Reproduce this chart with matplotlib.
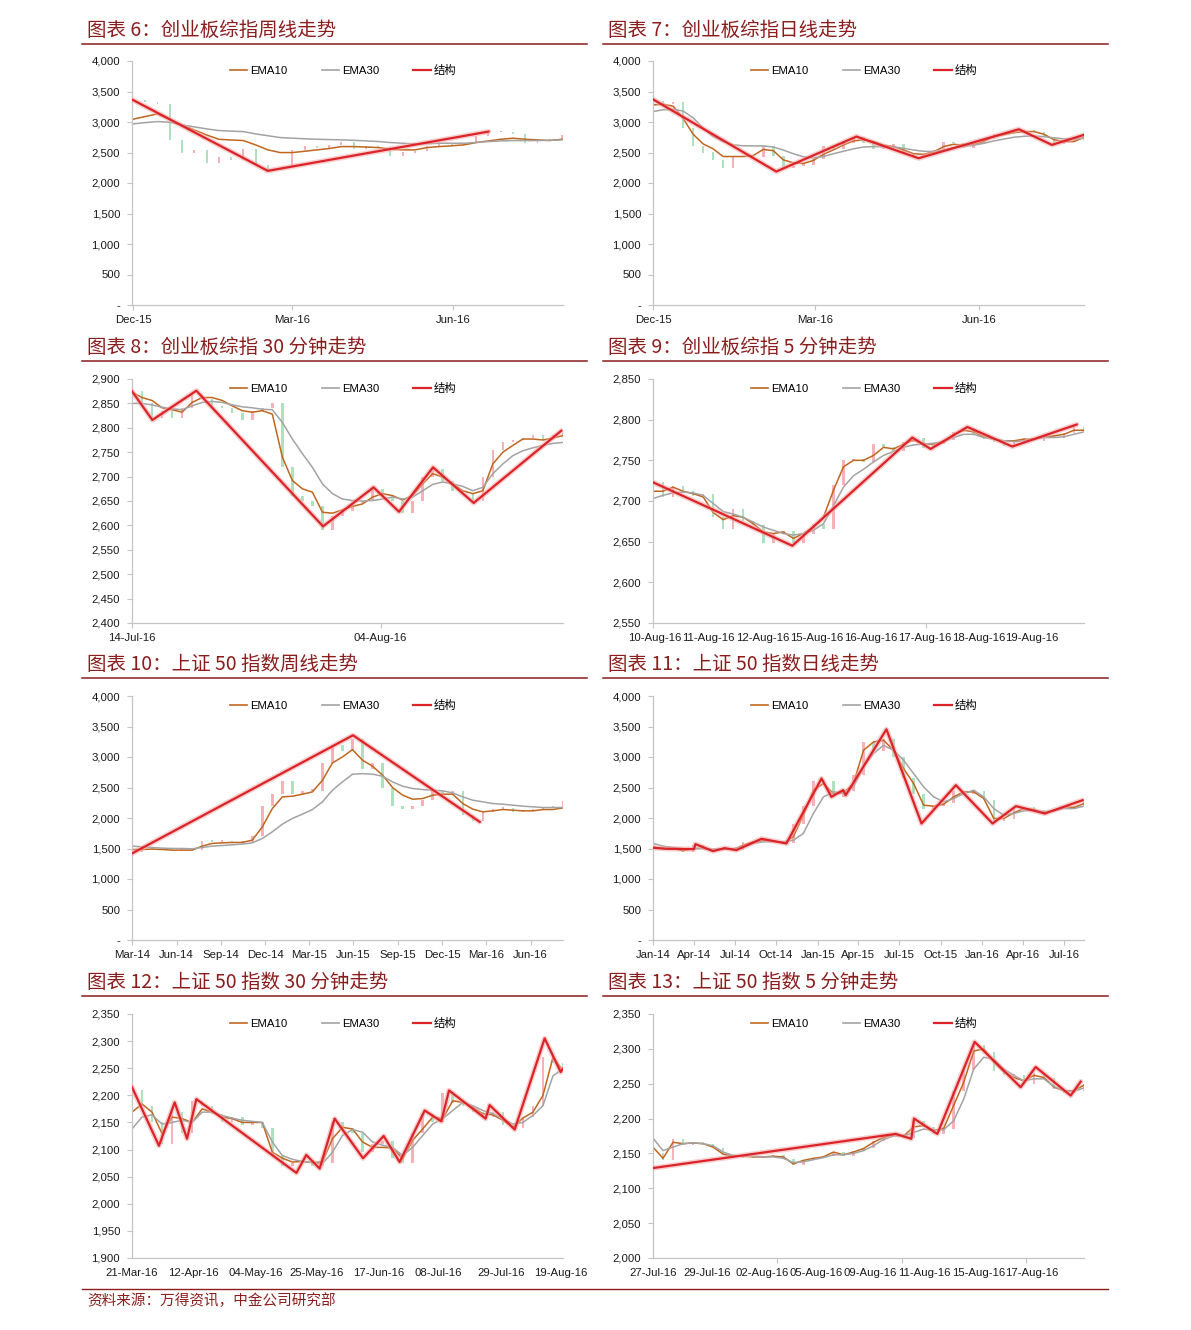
import matplotlib
matplotlib.use('Agg')
import matplotlib.pyplot as plt
from matplotlib.lines import Line2D
from matplotlib.ticker import FuncFormatter, MultipleLocator

plt.rcParams['font.family'] = ['Liberation Sans', 'Noto Sans CJK SC', 'DejaVu Sans']

# ---------------- data ----------------
# 图表6 创业板综指周线
c6_close = [3360, 3330, 3300, 2700, 2490, 2540, 2320, 2430, 2380, 2560, 2300, 2215,
            2250, 2540, 2600, 2570, 2630, 2680, 2560, 2600, 2590, 2450, 2500, 2520,
            2600, 2640, 2620, 2660, 2770, 2830, 2840, 2800, 2660, 2700, 2710, 2780]
c6_ema10 = [3045, 3090, 3132, 3040, 2952, 2870, 2788, 2717, 2705, 2696, 2625, 2543,
            2499, 2499, 2520, 2543, 2565, 2597, 2597, 2590, 2581, 2554, 2543, 2543,
            2581, 2597, 2610, 2625, 2663, 2690, 2717, 2734, 2717, 2707, 2696, 2717]
c6_ema30 = [2969, 2990, 3007, 2996, 2952, 2920, 2887, 2860, 2850, 2843, 2805, 2775,
            2745, 2735, 2725, 2717, 2712, 2707, 2700, 2690, 2680, 2663, 2652, 2641,
            2645, 2652, 2652, 2652, 2665, 2679, 2690, 2696, 2696, 2696, 2700, 2707]
c6_struct_x = [0, 11, 29]
c6_struct_y = [3361, 2199, 2843]
c6_ticks = [0, 12.97, 26.1]
c6_labels = ['Dec-15', 'Mar-16', 'Jun-16']

# 图表7 创业板综指日线
c7_close = [3350, 3300, 3320, 2900, 2600, 2500, 2380, 2250, 2420, 2440, 2430,
            2600, 2450, 2250, 2280, 2300, 2400, 2600, 2560, 2650, 2760, 2650,
            2560, 2600, 2640, 2480, 2420, 2480, 2540, 2680, 2650, 2580, 2660,
            2720, 2800, 2820, 2850, 2870, 2840, 2750, 2640, 2680, 2700, 2790]
c7_ema10 = [3280, 3290, 3260, 3060, 2800, 2641, 2560, 2434, 2434, 2434, 2450,
            2550, 2530, 2380, 2330, 2320, 2370, 2470, 2543, 2625, 2690, 2707,
            2680, 2620, 2597, 2540, 2480, 2470, 2510, 2597, 2636, 2615, 2630,
            2680, 2761, 2790, 2825, 2843, 2843, 2800, 2710, 2679, 2679, 2750]
c7_ema30 = [3171, 3200, 3209, 3180, 3070, 2900, 2760, 2680, 2625, 2610, 2608,
            2608, 2590, 2540, 2480, 2430, 2410, 2434, 2480, 2520, 2560, 2590,
            2597, 2597, 2590, 2570, 2540, 2520, 2515, 2540, 2580, 2597, 2620,
            2650, 2690, 2720, 2750, 2765, 2772, 2760, 2740, 2725, 2720, 2734]
c7_struct_x = [0, 12.3, 20.3, 26.5, 36.5, 39.8, 43]
c7_struct_y = [3372, 2188, 2761, 2406, 2881, 2625, 2789]
c7_ticks = [0, 16.2, 32.5]
c7_labels = ['Dec-15', 'Mar-16', 'Jun-16']

# 图表8 创业板综指30分钟
c8_close = [2875, 2850, 2820, 2835, 2820, 2840, 2870, 2860, 2845, 2840, 2830,
            2815, 2835, 2840, 2850, 2720, 2660, 2650, 2640, 2590, 2620, 2630,
            2645, 2650, 2675, 2660, 2650, 2625, 2650, 2700, 2715, 2690, 2670,
            2665, 2650, 2700, 2755, 2770, 2775, 2780, 2785, 2775, 2785, 2790]
c8_ema10 = [2873, 2862, 2856, 2841, 2837, 2832, 2852, 2862, 2862, 2856, 2845,
            2835, 2832, 2835, 2828, 2740, 2692, 2675, 2668, 2627, 2625, 2632,
            2639, 2644, 2658, 2665, 2661, 2652, 2661, 2685, 2706, 2699, 2685,
            2671, 2665, 2671, 2726, 2750, 2764, 2777, 2777, 2775, 2779, 2784]
c8_ema30 = [2850, 2850, 2847, 2842, 2839, 2837, 2845, 2852, 2854, 2852, 2847,
            2843, 2841, 2838, 2837, 2811, 2777, 2747, 2719, 2685, 2665, 2654,
            2651, 2650, 2651, 2654, 2658, 2654, 2658, 2671, 2684, 2689, 2685,
            2680, 2671, 2678, 2706, 2726, 2743, 2753, 2759, 2764, 2768, 2770]
c8_struct_x = [0, 2.03, 6.42, 19.06, 24.1, 26.64, 30.03, 34.09, 42.83]
c8_struct_y = [2875, 2816, 2876, 2598, 2678, 2628, 2719, 2646, 2794]
c8_ticks = [0, 24.8]
c8_labels = ['14-Jul-16', '04-Aug-16']

# 图表9 创业板综指5分钟
c9_close = [2723, 2705, 2718, 2712, 2706, 2708, 2680, 2665, 2690, 2675, 2670,
            2648, 2660, 2663, 2648, 2660, 2672, 2665, 2720, 2750, 2752, 2748,
            2770, 2766, 2762, 2772, 2778, 2765, 2770, 2775, 2785, 2790, 2782,
            2776, 2772, 2768, 2775, 2777, 2774, 2780, 2778, 2784, 2792, 2786]
c9_ema10 = [2712, 2712, 2717, 2712, 2709, 2705, 2686, 2677, 2682, 2680, 2672,
            2662, 2660, 2662, 2654, 2660, 2668, 2680, 2713, 2742, 2750, 2750,
            2756, 2766, 2764, 2770, 2775, 2770, 2770, 2772, 2782, 2787, 2785,
            2779, 2776, 2774, 2774, 2776, 2776, 2779, 2780, 2782, 2787, 2787]
c9_ema30 = [2703, 2707, 2710, 2711, 2710, 2707, 2697, 2687, 2684, 2680, 2674,
            2668, 2664, 2660, 2658, 2660, 2664, 2672, 2694, 2717, 2731, 2739,
            2748, 2756, 2761, 2766, 2769, 2770, 2771, 2773, 2778, 2782, 2782,
            2778, 2776, 2774, 2773, 2774, 2776, 2778, 2778, 2779, 2782, 2785]
c9_struct_x = [0, 13.9, 25.87, 27.7, 31.36, 35.85, 42.27]
c9_struct_y = [2723, 2645, 2778, 2764, 2791, 2767, 2794]
c9_ticks = [0.13, 5.52, 10.91, 16.3, 21.68, 27.07, 32.46, 37.84]
c9_labels = ['10-Aug-16', '11-Aug-16', '12-Aug-16', '15-Aug-16',
             '16-Aug-16', '17-Aug-16', '18-Aug-16', '19-Aug-16']
c9_marks = [0, 27.2]

# 图表10 上证50指数周线
c10_close = [1440, 1500, 1490, 1480, 1470, 1480, 1470, 1620, 1610, 1620, 1600,
             1610, 1700, 2200, 2400, 2600, 2400, 2450, 2450, 2900, 3200, 3100,
             3300, 2800, 2900, 2500, 2200, 2150, 2200, 2300, 2450, 2400, 2450,
             2050, 1950, 2100, 2150, 2170, 2100, 2120, 2150, 2180, 2170, 2280]
c10_ema10 = [1484, 1484, 1490, 1484, 1473, 1473, 1473, 1539, 1583, 1593, 1599,
             1599, 1637, 1855, 2155, 2346, 2357, 2390, 2428, 2619, 2903, 3001,
             3121, 2947, 2849, 2701, 2499, 2374, 2308, 2319, 2374, 2390, 2390,
             2237, 2145, 2101, 2117, 2139, 2128, 2117, 2117, 2139, 2139, 2166]
c10_ema30 = [1539, 1528, 1517, 1506, 1501, 1501, 1495, 1517, 1539, 1550, 1561,
             1572, 1593, 1664, 1773, 1899, 1992, 2063, 2139, 2265, 2456, 2592,
             2718, 2728, 2718, 2685, 2592, 2521, 2483, 2466, 2456, 2445, 2412,
             2346, 2292, 2265, 2237, 2226, 2210, 2194, 2183, 2172, 2172, 2172]
c10_struct_x = [0, 22.05, 34.69]
c10_struct_y = [1419, 3356, 1937]
c10_ticks = [0, 4.46, 8.88, 13.27, 17.66, 22.05, 26.54, 30.93, 35.32, 39.78]
c10_labels = ['Mar-14', 'Jun-14', 'Sep-14', 'Dec-14', 'Mar-15', 'Jun-15',
              'Sep-15', 'Dec-15', 'Mar-16', 'Jun-16']

# 图表11 上证50指数日线
c11_close = [1520, 1500, 1500, 1440, 1560, 1490, 1460, 1500, 1480, 1600, 1620,
             1640, 1610, 1590, 1900, 2200, 2600, 2600, 2350, 2450, 2700, 3250,
             3100, 3300, 3000, 2650, 2400, 2150, 2200, 2250, 2450, 2400, 2450,
             2300, 1950, 1980, 2150, 2180, 2120, 2100, 2150, 2200, 2180, 2280]
c11_ema10 = [1528, 1501, 1501, 1462, 1501, 1501, 1473, 1495, 1484, 1555, 1610,
             1626, 1621, 1593, 1692, 2046, 2456, 2565, 2401, 2412, 2565, 3110,
             3247, 3274, 3110, 2810, 2565, 2210, 2194, 2226, 2346, 2428, 2428,
             2319, 1992, 1992, 2085, 2155, 2139, 2085, 2128, 2183, 2172, 2237]
c11_ema30 = [1583, 1539, 1517, 1495, 1495, 1501, 1490, 1495, 1495, 1528, 1583,
             1610, 1610, 1604, 1637, 1746, 2074, 2346, 2428, 2412, 2510, 2838,
             3056, 3192, 3110, 2947, 2728, 2510, 2346, 2265, 2319, 2401, 2456,
             2346, 2155, 2046, 2074, 2117, 2128, 2101, 2117, 2155, 2155, 2194]
c11_struct_x = [0, 1.33, 4.09, 4.23, 5.99, 7.15, 8.32, 10.82, 13.31, 16.81, 17.8,
                18.97, 19.23, 23.29, 26.79, 30.22, 33.88, 36.21, 39.1, 42.86]
c11_struct_y = [1512, 1495, 1490, 1572, 1457, 1506, 1473, 1659, 1583, 2647, 2347,
                2456, 2374, 3454, 1910, 2538, 1910, 2194, 2074, 2292]
c11_ticks = [0, 4.09, 8.19, 12.25, 16.47, 20.47, 24.56, 28.72, 32.85, 36.94, 41.03]
c11_labels = ['Jan-14', 'Apr-14', 'Jul-14', 'Oct-14', 'Jan-15', 'Apr-15',
              'Jul-15', 'Oct-15', 'Jan-16', 'Apr-16', 'Jul-16']

# 图表12 上证50指数30分钟
c12_close = [2210, 2180, 2150, 2110, 2170, 2130, 2190, 2180, 2165, 2150, 2160,
             2145, 2150, 2140, 2090, 2070, 2075, 2080, 2070, 2075, 2150, 2140,
             2130, 2095, 2110, 2115, 2085, 2075, 2130, 2165, 2150, 2205, 2185,
             2180, 2170, 2160, 2170, 2145, 2140, 2160, 2180, 2270, 2260, 2245]
c12_ema10 = [2169, 2184, 2169, 2129, 2160, 2157, 2150, 2175, 2169, 2160, 2157,
             2150, 2150, 2150, 2095, 2084, 2077, 2078, 2076, 2077, 2120, 2141,
             2138, 2114, 2104, 2104, 2103, 2083, 2117, 2138, 2160, 2157, 2190,
             2187, 2178, 2166, 2164, 2154, 2141, 2158, 2169, 2200, 2270, 2246]
c12_ema30 = [2138, 2160, 2164, 2147, 2150, 2154, 2150, 2169, 2169, 2163, 2158,
             2154, 2152, 2150, 2114, 2089, 2082, 2078, 2076, 2074, 2095, 2126,
             2137, 2132, 2114, 2108, 2104, 2089, 2104, 2126, 2147, 2157, 2172,
             2187, 2181, 2172, 2166, 2157, 2147, 2150, 2163, 2181, 2236, 2249]
c12_struct_x = [0, 2.69, 4.26, 5.49, 6.42, 16.4, 17.39, 18.72, 20.22, 23.05, 25.11,
                26.7, 29.2, 30.86, 31.63, 35.28, 35.68, 38.18, 41.17, 42.77, 43]
c12_struct_y = [2215, 2107, 2187, 2120, 2193, 2057, 2090, 2065, 2157, 2084, 2125,
                2077, 2172, 2152, 2209, 2157, 2182, 2137, 2305, 2243, 2249]
c12_ticks = [0, 6.15, 12.3, 18.39, 24.61, 30.6, 36.85, 42.77]
c12_labels = ['21-Mar-16', '12-Apr-16', '04-May-16', '25-May-16',
              '17-Jun-16', '08-Jul-16', '29-Jul-16', '19-Aug-16']
c12_marks = [0, 12.3, 24.61, 36.85]

# 图表13 上证50指数5分钟
c13_close = [2150, 2140, 2170, 2162, 2166, 2163, 2158, 2148, 2143, 2147, 2143,
             2146, 2148, 2142, 2133, 2140, 2143, 2147, 2152, 2146, 2154, 2158,
             2168, 2176, 2178, 2172, 2196, 2188, 2178, 2185, 2240, 2270, 2305,
             2295, 2268, 2262, 2262, 2250, 2265, 2258, 2242, 2236, 2240, 2250]
c13_ema10 = [2159, 2143, 2166, 2164, 2165, 2164, 2159, 2149, 2146, 2146, 2145,
             2145, 2146, 2145, 2135, 2140, 2143, 2145, 2152, 2148, 2152, 2157,
             2166, 2173, 2177, 2175, 2188, 2190, 2183, 2186, 2219, 2252, 2297,
             2300, 2281, 2267, 2259, 2254, 2262, 2259, 2245, 2240, 2240, 2248]
c13_ema30 = [2172, 2154, 2159, 2164, 2165, 2164, 2161, 2152, 2147, 2146, 2146,
             2145, 2145, 2143, 2137, 2138, 2141, 2144, 2148, 2148, 2150, 2154,
             2161, 2170, 2175, 2175, 2180, 2185, 2183, 2184, 2197, 2228, 2271,
             2288, 2285, 2271, 2262, 2254, 2257, 2257, 2246, 2240, 2239, 2244]
c13_struct_x = [0, 24.21, 25.77, 26.04, 28.37, 32.09, 36.68, 38.18, 41.67, 42.67]
c13_struct_y = [2129, 2178, 2171, 2200, 2178, 2310, 2245, 2274, 2233, 2253]
c13_ticks = [0, 5.42, 10.91, 16.23, 21.65, 27.04, 32.46, 37.84]
c13_labels = ['27-Jul-16', '29-Jul-16', '02-Aug-16', '05-Aug-16',
              '09-Aug-16', '11-Aug-16', '15-Aug-16', '17-Aug-16']
c13_marks = [0, 12.4, 24.88, 37.18]

titles = ['图表 6：创业板综指周线走势', '图表 7：创业板综指日线走势',
          '图表 8：创业板综指 30 分钟走势', '图表 9：创业板综指 5 分钟走势',
          '图表 10：上证 50 指数周线走势', '图表 11：上证 50 指数日线走势',
          '图表 12：上证 50 指数 30 分钟走势', '图表 13：上证 50 指数 5 分钟走势']
source = '资料来源：万得资讯，中金公司研究部'

# ---------------- style ----------------
DARK_RED = '#8b1d1d'
EMA10_C = '#c0661f'
EMA30_C = '#a3a3a3'
STRUCT_C = '#dc2328'
GLOW_C = '#f2a8a8'
UP_C = '#f7b1b8'
DOWN_C = '#ade2be'
AXIS_C = '#c4c4c4'

W, H = 1191, 1330
fig = plt.figure(figsize=(W / 100, H / 100), dpi=100)


def fx(px):
    return px / W


def fy(py):
    return 1 - py / H


def yfmt(v, pos):
    if abs(v) < 1e-9:
        return '-'
    return f'{v:,.0f}'


def hline(x0, x1, y, lw=1.1):
    fig.add_artist(Line2D([fx(x0), fx(x1)], [fy(y), fy(y)], color=DARK_RED,
                          lw=lw, transform=fig.transFigure))


def draw_panel(col, row, title, closes, ema10, ema30, sx, sy, ylim, ystep,
               ticks, labels, marks=None, xlim=(0, 43), bar_w=0.25):
    left = [132, 653][col]
    right = left + 431
    top = [61, 379, 696, 1014][row]
    bottom = top + 244
    ax = fig.add_axes([fx(left), fy(bottom), fx(right - left), (bottom - top) / H])

    # title and its rule
    ty = [30, 347, 664, 982][row]
    fig.text(fx([87, 608][col]), fy(ty), title, fontsize=14, color=DARK_RED,
             va='center', ha='left', family=['Noto Sans CJK SC', 'DejaVu Sans'],
             style='italic')
    hline([82, 603][col], [587, 1108][col], ty + 14)

    # candles: body from previous close to close
    span = ylim[1] - ylim[0]
    for i in range(1, len(closes)):
        o, c = closes[i - 1], closes[i]
        h = max(abs(c - o), span * 0.006)
        ax.bar(i, h, bottom=min(o, c), width=bar_w,
               color=UP_C if c >= o else DOWN_C, zorder=1, lw=0)

    ax.plot(range(len(ema10)), ema10, color=EMA10_C, lw=1.1, zorder=2)
    ax.plot(range(len(ema30)), ema30, color=EMA30_C, lw=1.1, zorder=2)
    ax.plot(sx, sy, color=GLOW_C, lw=3.8, alpha=0.55, zorder=3,
            solid_capstyle='round', solid_joinstyle='round')
    ax.plot(sx, sy, color=STRUCT_C, lw=1.6, zorder=4, solid_joinstyle='round')

    ax.set_xlim(*xlim)
    ax.set_ylim(*ylim)
    ax.yaxis.set_major_locator(MultipleLocator(ystep))
    ax.yaxis.set_major_formatter(FuncFormatter(yfmt))
    ax.set_xticks(ticks)
    ax.set_xticklabels(labels)
    for s in ['top', 'right']:
        ax.spines[s].set_visible(False)
    for s in ['left', 'bottom']:
        ax.spines[s].set_color(AXIS_C)
        ax.spines[s].set_linewidth(0.9)
    ax.tick_params(axis='both', which='both', colors=AXIS_C, labelcolor='#1a1a1a',
                   labelsize=8.2, length=3.5, width=0.8)
    ax.tick_params(axis='y', pad=5)
    ax.tick_params(axis='x', pad=4)
    if marks is not None:
        ax.set_xticks(marks, minor=True)
        ax.tick_params(axis='x', which='major', length=0, pad=7.5)
        ax.tick_params(axis='x', which='minor', length=3.5)

    handles = [Line2D([], [], color=EMA10_C, lw=1.2),
               Line2D([], [], color=EMA30_C, lw=1.2),
               Line2D([], [], color=STRUCT_C, lw=1.6)]
    ax.legend(handles, ['EMA10', 'EMA30', '结构'], loc='center',
              bbox_to_anchor=(0.49, 0.96), ncol=3, frameon=False, fontsize=8.2,
              handlelength=1.5, handletextpad=0.3, columnspacing=3.0)
    return ax


draw_panel(0, 0, titles[0], c6_close, c6_ema10, c6_ema30, c6_struct_x, c6_struct_y,
           (0, 4000), 500, c6_ticks, c6_labels, xlim=(-0.08, 35.08), bar_w=0.16)
draw_panel(1, 0, titles[1], c7_close, c7_ema10, c7_ema30, c7_struct_x, c7_struct_y,
           (0, 4000), 500, c7_ticks, c7_labels)
draw_panel(0, 1, titles[2], c8_close, c8_ema10, c8_ema30, c8_struct_x, c8_struct_y,
           (2400, 2900), 50, c8_ticks, c8_labels)
draw_panel(1, 1, titles[3], c9_close, c9_ema10, c9_ema30, c9_struct_x, c9_struct_y,
           (2550, 2850), 50, c9_ticks, c9_labels, marks=c9_marks)
draw_panel(0, 2, titles[4], c10_close, c10_ema10, c10_ema30, c10_struct_x, c10_struct_y,
           (0, 4000), 500, c10_ticks, c10_labels)
draw_panel(1, 2, titles[5], c11_close, c11_ema10, c11_ema30, c11_struct_x, c11_struct_y,
           (0, 4000), 500, c11_ticks, c11_labels)
draw_panel(0, 3, titles[6], c12_close, c12_ema10, c12_ema30, c12_struct_x, c12_struct_y,
           (1900, 2350), 50, c12_ticks, c12_labels, marks=c12_marks)
draw_panel(1, 3, titles[7], c13_close, c13_ema10, c13_ema30, c13_struct_x, c13_struct_y,
           (2000, 2350), 50, c13_ticks, c13_labels, marks=c13_marks)

# source footer
hline(82, 1108, 1289, lw=1.0)
fig.text(fx(87), fy(1301), source, fontsize=10.5, color=DARK_RED, va='center',
         ha='left', family=['Noto Sans CJK SC', 'DejaVu Sans'], style='italic')

fig.savefig('out.png', dpi=100)
